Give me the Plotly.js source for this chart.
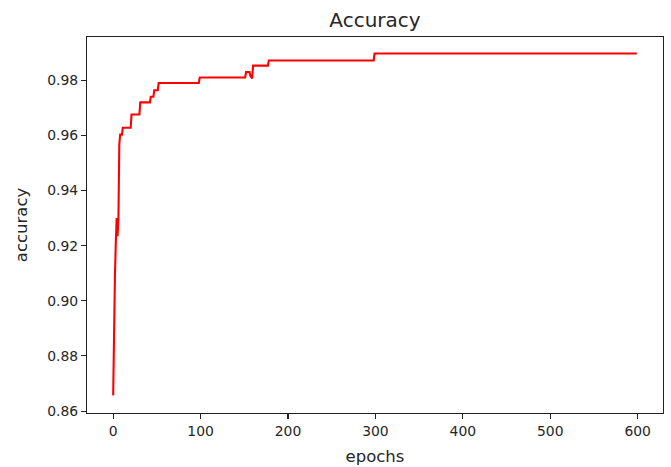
<!DOCTYPE html>
<html>
<head>
<meta charset="utf-8">
<script src="https://cdn.plot.ly/plotly-3.0.1.min.js"></script>
<style>html,body{margin:0;padding:0;background:#fff;}#chart{width:671px;height:467px;}</style>
</head>
<body>
<div id="chart"></div>
<script>
const epochs = [0, 1, 2, 3, 4, 5, 6, 7, 8, 10, 11, 20, 21, 30, 31, 42, 43, 46, 47, 51, 52, 98, 99, 151, 152, 156, 157, 159, 160, 177, 178, 298, 299, 599];
const accuracy = [0.8657, 0.893, 0.909, 0.921, 0.930, 0.9234, 0.9303, 0.9567, 0.9603, 0.9603, 0.9628, 0.9628, 0.9676, 0.9676, 0.9720, 0.9720, 0.9740, 0.9740, 0.9764, 0.9764, 0.9790, 0.9790, 0.9810, 0.9810, 0.9830, 0.9830, 0.9815, 0.9807, 0.9853, 0.9853, 0.9872, 0.9872, 0.9897, 0.9897];
const xTicks = [0, 100, 200, 300, 400, 500, 600];
const yTicks = [0.86, 0.88, 0.90, 0.92, 0.94, 0.96, 0.98];

const font = {family: 'DejaVu Sans', size: 13.9, color: '#262626'};
const labelFont = {family: 'DejaVu Sans', size: 16.5, color: '#262626'};
const axisCommon = {
  showgrid: false, zeroline: false, showline: true, mirror: true,
  linecolor: '#222', linewidth: 1.1, ticks: 'outside', ticklen: 5,
  tickwidth: 1.1, tickcolor: '#222', tickfont: font
};
Plotly.newPlot('chart', [{
  x: epochs, y: accuracy, type: 'scatter', mode: 'lines',
  line: {color: '#ff0000', width: 2.1}, hoverinfo: 'skip'
}], {
  width: 671, height: 467,
  margin: {l: 87, r: 8, t: 37, b: 54},
  paper_bgcolor: '#fff', plot_bgcolor: '#fff',
  showlegend: false,
  title: {text: 'Accuracy', font: {family: 'DejaVu Sans', size: 20, color: '#262626'},
          x: 0.5, xref: 'paper', y: 1 - 20/467, yref: 'container', yanchor: 'middle'},
  xaxis: Object.assign({}, axisCommon, {
    range: [-29.95, 628.95], tickvals: xTicks, ticktext: xTicks.map(String),
    title: {text: 'epochs', font: labelFont, standoff: 12}
  }),
  yaxis: Object.assign({}, axisCommon, {
    range: [0.8593, 0.9957], tickvals: yTicks, ticktext: yTicks.map(v => v.toFixed(2)),
    title: {text: 'accuracy', font: labelFont, standoff: 15}
  })
}, {staticPlot: true, displayModeBar: false});
</script>
</body>
</html>
